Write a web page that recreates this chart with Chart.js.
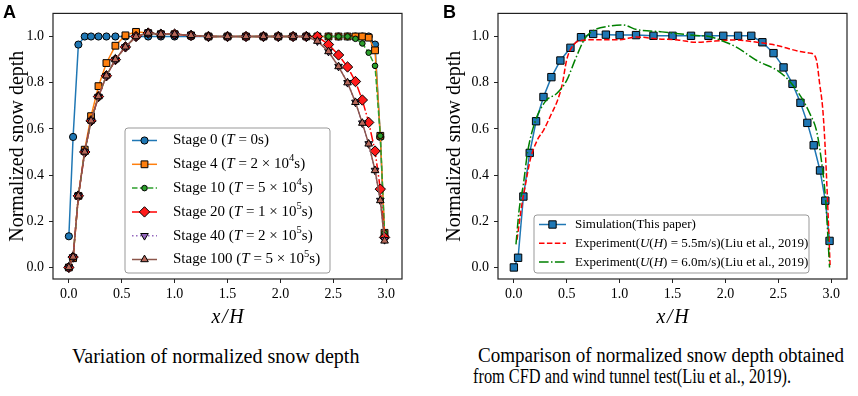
<!DOCTYPE html>
<html>
<head>
<meta charset="utf-8">
<script src="https://cdn.jsdelivr.net/npm/chart.js@4.4.0/dist/chart.umd.min.js"></script>
<style>
html, body { margin: 0; padding: 0; background: #fff; }
body { width: 858px; height: 396px; position: relative; overflow: hidden; font-family: "Liberation Serif", "Times New Roman", serif; color: #000; }
.box { position: absolute; }
#boxA { left: 0; top: 0; width: 420px; height: 330px; }
#boxB { left: 430px; top: 0; width: 428px; height: 330px; }
.tag { position: absolute; font-family: "Liberation Sans", Arial, sans-serif; font-weight: bold; font-size: 18px; line-height: 18px; }
.cap { position: absolute; font-size: 20px; line-height: 20px; white-space: nowrap; transform-origin: left top; }
</style>
</head>
<body>
<div class="box" id="boxA"><canvas id="chartA" width="420" height="330"></canvas></div>
<div class="box" id="boxB"><canvas id="chartB" width="428" height="330"></canvas></div>
<div class="tag" style="left:3px;top:3px">A</div>
<div class="tag" style="left:443px;top:3px">B</div>
<div class="cap" data-w="288" style="left:72px;top:346px">Variation of normalized snow depth</div>
<div class="cap" data-w="366" style="left:478px;top:345px">Comparison of normalized snow depth obtained</div>
<div class="cap" data-w="318" style="left:473px;top:366px">from CFD and wind tunnel test(Liu et al., 2019).</div>

<script>
// осі
const X_TICKS = [0, 0.5, 1.0, 1.5, 2.0, 2.5, 3.0];
const Y_TICKS = [0, 0.2, 0.4, 0.6, 0.8, 1.0];

// вузли x/H для симуляції (спільні для обох панелей)
const xNodes = [0.0, 0.04, 0.09, 0.15, 0.21, 0.28, 0.355, 0.44, 0.535, 0.635, 0.75, 0.87, 1.0, 1.155, 1.32, 1.5, 1.675, 1.84, 1.98, 2.12, 2.245, 2.35, 2.455, 2.55, 2.635, 2.71, 2.775, 2.835, 2.895, 2.945, 2.985];

// Панель A — стадії
const stage0   = [0.135, 0.565, 0.965, 1.0, 1.0, 1.0, 1.0, 1.0, 1.0, 1.0, 1.0, 1.0, 1.0, 1.0, 1.0, 1.0, 1.0, 1.0, 1.0, 1.0, 1.0, 1.0, 1.0, 1.0, 1.0, 1.0, 1.0, 1.0, 0.965, 0.565, 0.135];
const stage4   = [0.0, 0.04, 0.31, 0.51, 0.655, 0.785, 0.885, 0.96, 1.005, 1.02, 1.015, 1.01, 1.01, 1.005, 1.0, 1.0, 1.0, 1.0, 1.0, 1.0, 1.0, 1.0, 1.0, 1.0, 1.0, 1.0, 1.0, 0.995, 0.94, 0.57, 0.15];
const stage10  = [0.0, 0.045, 0.31, 0.50, 0.635, 0.74, 0.83, 0.90, 0.955, 1.0, 1.015, 1.01, 1.01, 1.005, 1.0, 1.0, 1.0, 1.0, 1.0, 1.0, 1.0, 1.0, 1.0, 1.0, 1.0, 0.99, 0.97, 0.93, 0.873, 0.57, 0.15];
const stage20  = [0.0, 0.045, 0.31, 0.50, 0.635, 0.74, 0.83, 0.90, 0.955, 1.0, 1.015, 1.01, 1.01, 1.005, 1.0, 1.0, 1.0, 1.0, 1.0, 1.0, 1.0, 1.0, 0.965, 0.92, 0.868, 0.805, 0.725, 0.628, 0.504, 0.339, 0.13];
const stage40  = [0.0, 0.045, 0.31, 0.50, 0.635, 0.74, 0.83, 0.90, 0.955, 1.0, 1.015, 1.01, 1.01, 1.005, 1.0, 1.0, 1.0, 1.0, 1.0, 1.0, 1.0, 0.98, 0.935, 0.87, 0.80, 0.715, 0.625, 0.535, 0.42, 0.29, 0.12];
const stage100 = [0.0, 0.045, 0.31, 0.50, 0.635, 0.74, 0.83, 0.90, 0.955, 1.0, 1.015, 1.01, 1.01, 1.005, 1.0, 1.0, 1.0, 1.0, 1.0, 1.0, 1.0, 0.98, 0.935, 0.87, 0.80, 0.715, 0.625, 0.535, 0.42, 0.29, 0.115];

// Панель B — симуляція та експерименти
const simY = [0.0, 0.042, 0.307, 0.496, 0.633, 0.738, 0.824, 0.896, 0.951, 0.997, 1.011, 1.008, 1.006, 1.006, 1.003, 1.003, 1.003, 1.003, 1.003, 1.003, 1.003, 0.975, 0.928, 0.866, 0.795, 0.713, 0.626, 0.529, 0.42, 0.289, 0.115];
const exp55X = [0.03, 0.065, 0.11, 0.157, 0.22, 0.283, 0.35, 0.41, 0.456, 0.50, 0.55, 0.63, 0.80, 1.0, 1.16, 1.35, 1.55, 1.72, 1.9, 2.1, 2.3, 2.45, 2.58, 2.7, 2.8, 2.84, 2.865, 2.89, 2.92, 2.94, 2.965, 2.99];
const exp55Y = [0.12, 0.24, 0.36, 0.47, 0.55, 0.596, 0.66, 0.72, 0.79, 0.90, 0.955, 0.983, 0.986, 0.986, 0.998, 0.99, 0.985, 0.975, 0.98, 0.985, 0.975, 0.965, 0.95, 0.935, 0.928, 0.92, 0.89, 0.80, 0.69, 0.55, 0.30, 0.01];
const exp60X = [0.02, 0.05, 0.09, 0.13, 0.2, 0.3, 0.41, 0.5, 0.58, 0.67, 0.75, 0.9, 1.03, 1.16, 1.4, 1.7, 1.85, 1.95, 2.1, 2.3, 2.5, 2.6, 2.72, 2.8, 2.86, 2.9, 2.95, 2.985];
const exp60Y = [0.1, 0.25, 0.36, 0.5, 0.63, 0.72, 0.755, 0.81, 0.9, 0.99, 1.025, 1.045, 1.05, 1.03, 1.02, 1.005, 1.0, 0.985, 0.955, 0.895, 0.85, 0.81, 0.735, 0.665, 0.595, 0.49, 0.28, 0.0];

// підписи легенд: [текст, стиль] ('' звичайний, 'i' курсив, 's' степінь)
const stageLabels = [
    [['Stage 0 (', ''], ['T', 'i'], [' = 0s)', '']],
    [['Stage 4 (', ''], ['T', 'i'], [' = 2 \u00d7 10', ''], ['4', 's'], ['s)', '']],
    [['Stage 10 (', ''], ['T', 'i'], [' = 5 \u00d7 10', ''], ['4', 's'], ['s)', '']],
    [['Stage 20 (', ''], ['T', 'i'], [' = 1 \u00d7 10', ''], ['5', 's'], ['s)', '']],
    [['Stage 40 (', ''], ['T', 'i'], [' = 2 \u00d7 10', ''], ['5', 's'], ['s)', '']],
    [['Stage 100 (', ''], ['T', 'i'], [' = 5 \u00d7 10', ''], ['5', 's'], ['s)', '']]
];
const compareLabels = [
    [['Simulation(This paper)', '']],
    [['Experiment(', ''], ['U', 'i'], ['(', ''], ['H', 'i'], [') = 5.5m/s)(Liu et al., 2019)', '']],
    [['Experiment(', ''], ['U', 'i'], ['(', ''], ['H', 'i'], [') = 6.0m/s)(Liu et al., 2019)', '']]
];

const SERIF = '"Liberation Serif", "Times New Roman", serif';
const DASHED = [5.5, 2.4];
const DASHDOT = [9.6, 2.4, 1.5, 2.4];
const DOTTED = [1.5, 2.5];

function pts(xs, ys) {
    return xs.map((x, i) => ({ x: x, y: ys[i] }));
}

function line(label, xs, ys, style) {
    return Object.assign({
        label: label,
        data: pts(xs, ys),
        showLine: true,
        borderWidth: 1.5,
        borderDash: [],
        pointRadius: 0,
        pointBorderColor: '#000',
        pointBorderWidth: 1,
        pointHoverRadius: 0
    }, style);
}

// рамка навколо області графіка
const framePlugin = {
    id: 'frame',
    afterDatasetsDraw(chart) {
        const { ctx, chartArea: a } = chart;
        ctx.save();
        ctx.strokeStyle = '#222';
        ctx.lineWidth = 1.2;
        ctx.strokeRect(a.left, a.top, a.right - a.left, a.bottom - a.top);
        ctx.restore();
    }
};

function drawRich(ctx, parts, x, y, size) {
    let cx = x;
    parts.forEach(([t, s]) => {
        let f = size, dy = 0, st = '';
        if (s === 'i') st = 'italic ';
        if (s === 's') { f = size * 0.7; dy = -size * 0.38; }
        ctx.font = st + f + 'px ' + SERIF;
        ctx.fillText(t, cx, y + dy);
        cx += ctx.measureText(t).width;
    });
}

// легенда з курсивом та степенями
const legendPlugin = {
    id: 'richLegend',
    afterDraw(chart, args, o) {
        const ctx = chart.ctx;
        ctx.save();
        ctx.beginPath();
        if (ctx.roundRect) ctx.roundRect(o.x, o.y, o.w, o.h, 3); else ctx.rect(o.x, o.y, o.w, o.h);
        ctx.fillStyle = 'rgba(255,255,255,0.85)';
        ctx.fill();
        ctx.strokeStyle = '#999';
        ctx.lineWidth = 1;
        ctx.stroke();

        chart.data.datasets.forEach((ds, i) => {
            const cy = o.y + o.first + i * o.step;
            ctx.beginPath();
            ctx.setLineDash(ds.borderDash || []);
            ctx.strokeStyle = ds.borderColor;
            ctx.lineWidth = ds.borderWidth;
            ctx.moveTo(o.x + o.h0, cy);
            ctx.lineTo(o.x + o.h1, cy);
            ctx.stroke();
            ctx.setLineDash([]);
            if (ds.pointRadius > 0 && Chart.helpers && Chart.helpers.drawPoint) {
                ctx.fillStyle = ds.pointBackgroundColor;
                ctx.strokeStyle = ds.pointBorderColor;
                ctx.lineWidth = ds.pointBorderWidth;
                Chart.helpers.drawPoint(ctx, {
                    pointStyle: ds.pointStyle,
                    rotation: ds.pointRotation || 0,
                    radius: ds.pointRadius,
                    borderWidth: ds.pointBorderWidth
                }, o.x + (o.h0 + o.h1) / 2, cy);
            }
            ctx.fillStyle = '#000';
            ctx.textBaseline = 'middle';
            ctx.textAlign = 'left';
            drawRich(ctx, o.labels[i], o.x + o.tx, cy, o.size);
        });
        ctx.restore();
    }
};

function axes(yWidth, yTitlePad) {
    const tickFont = { family: SERIF, size: 14 };
    return {
        x: {
            type: 'linear',
            min: -0.15,
            max: 3.15,
            afterBuildTicks: s => { s.ticks = X_TICKS.map(v => ({ value: v })); },
            afterFit: s => { s.height = 51; },
            grid: { display: true, drawOnChartArea: false, drawTicks: true, tickLength: 4, color: '#222' },
            border: { display: false },
            ticks: { color: '#000', font: tickFont, padding: 3, autoSkip: false, maxRotation: 0, callback: v => v.toFixed(1) },
            title: { display: true, text: 'x\u200a/\u200aH', color: '#000', font: { family: SERIF, size: 20, style: 'italic' }, padding: { top: 0, bottom: 0 } }
        },
        y: {
            min: -0.05,
            max: 1.1,
            afterBuildTicks: s => { s.ticks = Y_TICKS.map(v => ({ value: v })); },
            afterFit: s => { s.width = yWidth; },
            grid: { display: true, drawOnChartArea: false, drawTicks: true, tickLength: 4, color: '#222' },
            border: { display: false },
            ticks: { color: '#000', font: tickFont, padding: 5, autoSkip: false, callback: v => v.toFixed(1) },
            title: { display: true, text: 'Normalized snow depth', color: '#000', font: { family: SERIF, size: 20 }, padding: { top: yTitlePad, bottom: 0 } }
        }
    };
}

function makeChart(id, datasets, rightPad, yWidth, yTitlePad, legendOpts) {
    return new Chart(document.getElementById(id), {
        type: 'scatter',
        data: { datasets: datasets },
        plugins: [framePlugin, legendPlugin],
        options: {
            responsive: false,
            animation: false,
            events: [],
            layout: { padding: { top: 3, right: rightPad, left: 0, bottom: 0 } },
            scales: axes(yWidth, yTitlePad),
            plugins: {
                legend: { display: false },
                tooltip: { enabled: false },
                richLegend: legendOpts
            }
        }
    });
}

// Панель A
const dsA = [
    line('Stage 0', xNodes, stage0, { order: 5, borderColor: '#1f77b4', pointBackgroundColor: '#1f77b4', pointStyle: 'circle', pointRadius: 3.6 }),
    line('Stage 4', xNodes, stage4, { order: 4, borderColor: '#ff7f0e', pointBackgroundColor: '#ff7f0e', pointStyle: 'rect', pointRadius: 4.8 }),
    line('Stage 10', xNodes, stage10, { order: 3, borderColor: '#2ca02c', pointBackgroundColor: '#2ca02c', pointStyle: 'circle', pointRadius: 2.8, borderDash: DASHED }),
    line('Stage 20', xNodes, stage20, { order: 2, borderColor: '#ff0000', pointBackgroundColor: '#ff1a1a', pointStyle: 'rectRot', pointRadius: 5.2, borderDash: DASHDOT }),
    line('Stage 40', xNodes, stage40, { order: 1, borderColor: '#9467bd', pointBackgroundColor: '#9467bd', pointStyle: 'triangle', pointRotation: 180, pointRadius: 4.4, borderDash: DOTTED }),
    line('Stage 100', xNodes, stage100, { order: 0, borderColor: '#8c564b', pointBackgroundColor: '#b8685a', pointStyle: 'triangle', pointRadius: 4.4 })
];
makeChart('chartA', dsA, 18, 53, 5.5, {
    x: 125, y: 128, w: 205, h: 145, first: 12.5, step: 23.8, h0: 7, h1: 32, tx: 48, size: 15, labels: stageLabels
});

// Панель B
const dsB = [
    line('Simulation', xNodes, simY, { order: 2, borderColor: '#1f77b4', pointBackgroundColor: '#1f77b4', pointStyle: 'rect', pointRadius: 5.2 }),
    line('Experiment 5.5', exp55X, exp55Y, { order: 1, borderColor: '#ff0000', borderDash: DASHED, cubicInterpolationMode: 'monotone' }),
    line('Experiment 6.0', exp60X, exp60Y, { order: 0, borderColor: '#008000', borderDash: DASHDOT, cubicInterpolationMode: 'monotone' })
];
makeChart('chartB', dsB, 11, 68, 13, {
    x: 104, y: 215, w: 275, h: 58, first: 9.5, step: 18.8, h0: 5, h1: 32, tx: 41, size: 13, labels: compareLabels
});

// підгонка ширини підписів під рисунок
document.querySelectorAll('.cap').forEach(el => {
    const w = Number(el.dataset.w);
    el.style.transform = 'scaleX(' + (w / el.offsetWidth).toFixed(3) + ')';
});
</script>
</body>
</html>
